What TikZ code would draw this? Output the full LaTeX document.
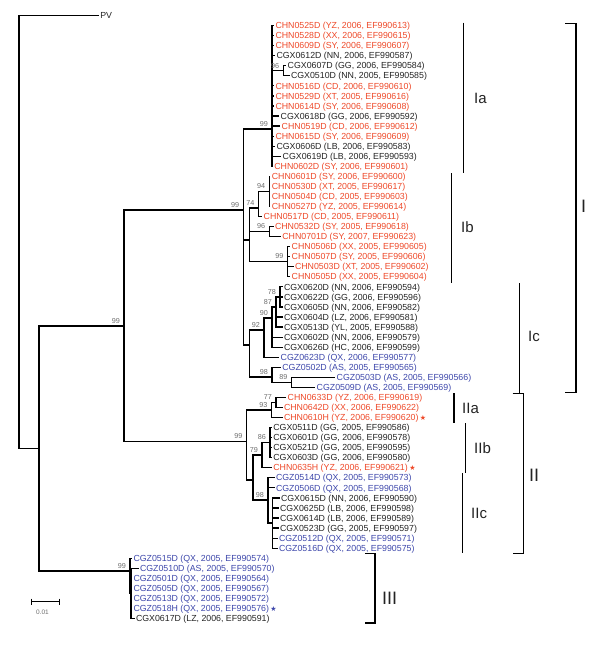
\documentclass[tikz,border=0pt]{standalone}
\usepackage{fontspec}
\setmainfont{Liberation Sans}
\newfontfamily\symf{DejaVu Sans}
\definecolor{rd}{RGB}{238,72,40}
\definecolor{bl}{RGB}{60,70,170}
\definecolor{gk}{RGB}{35,35,35}
\definecolor{bsg}{RGB}{110,110,110}
\tikzset{
  br/.style={line width=1.2pt, line cap=rect},
  leaflab/.style={anchor=west, inner xsep=1.8pt, inner ysep=0pt, font=\fontsize{8.8}{10}\selectfont, text height=6.3pt, text depth=0pt},
  bs/.style={anchor=south east, inner sep=0pt, font=\fontsize{7.2}{8}\selectfont, text=bsg},
  grpline/.style={line width=1.2pt},
  sublab/.style={anchor=west, inner sep=0pt, font=\fontsize{15}{16}\selectfont, text=gk},
  mainlab/.style={anchor=west, inner sep=0pt, font=\fontsize{18}{19}\selectfont, text=gk}
}
\newcommand\lv[5]{\node[leaflab,text=#4] (#1) at (#2,{15.5+10.05*#3}) {#5};}
\newcommand\stR{\,{\symf\fontsize{7}{7}\selectfont\textcolor{rd}{★}}}
\newcommand\stB{\,{\symf\fontsize{7}{7}\selectfont\textcolor{bl}{★}}}
\newcommand\bsl[2]{\node[bs] at ([xshift=-4pt,yshift=2.5pt]#1) {#2};}
\begin{document}
\begin{tikzpicture}[x=1pt,y=-1pt]
\useasboundingbox (0,0) rectangle (600,645);
% ---------- internal nodes ----------
\coordinate (R) at (19,232);
\coordinate (IN) at (39,448.5);
\coordinate (A) at (124,326);
\coordinate (I) at (243.3,210);
\coordinate (Ia) at (272,129);
\coordinate (n96a) at (283.3,70.8);
\coordinate (B) at (249.3,240);
\coordinate (n74) at (258.5,208);
\coordinate (n94) at (269.3,191.4);
\coordinate (n96b) at (269.3,231.6);
\coordinate (n99b) at (287.7,261.7);
\coordinate (C) at (249.3,345);
\coordinate (n92) at (264,330);
\coordinate (n90) at (272,318);
\coordinate (n87) at (276,307);
\coordinate (n78) at (280,297);
\coordinate (n98) at (272,377);
\coordinate (n89) at (291.7,382.3);
\coordinate (II) at (246.7,441.7);
\coordinate (n93) at (271.7,410);
\coordinate (n77) at (276,402.4);
\coordinate (D) at (253,480);
\coordinate (n79) at (262,455);
\coordinate (n86) at (270,442.6);
\coordinate (n98c) at (268,500);
\coordinate (nc) at (272.5,523);
\coordinate (III) at (130,571);
\coordinate (S) at (131,593);
% ---------- leaves ----------
\node[leaflab,text=gk] (PV) at (98.3,15.5) {PV};
\lv{L1}{273.5}{1}{rd}{CHN0525D (YZ, 2006, EF990613)}
\lv{L2}{273.5}{2}{rd}{CHN0528D (XX, 2006, EF990615)}
\lv{L3}{273.5}{3}{rd}{CHN0609D (SY, 2006, EF990607)}
\lv{L4}{274.5}{4}{gk}{CGX0612D (NN, 2006, EF990587)}
\lv{L5}{285.7}{5}{gk}{CGX0607D (GG, 2006, EF990584)}
\lv{L6}{289}{6}{gk}{CGX0510D (NN, 2005, EF990585)}
\lv{L7}{273.5}{7}{rd}{CHN0516D (CD, 2006, EF990610)}
\lv{L8}{273.5}{8}{rd}{CHN0529D (XT, 2005, EF990616)}
\lv{L9}{273.5}{9}{rd}{CHN0614D (SY, 2006, EF990608)}
\lv{L10}{278.7}{10}{gk}{CGX0618D (GG, 2006, EF990592)}
\lv{L11}{279.7}{11}{rd}{CHN0519D (CD, 2006, EF990612)}
\lv{L12}{273.5}{12}{rd}{CHN0615D (SY, 2006, EF990609)}
\lv{L13}{274.5}{13}{gk}{CGX0606D (LB, 2006, EF990583)}
\lv{L14}{280.7}{14}{gk}{CGX0619D (LB, 2006, EF990593)}
\lv{L15}{272.3}{15}{rd}{CHN0602D (SY, 2006, EF990601)}
\lv{L16}{269.8}{16}{rd}{CHN0601D (SY, 2006, EF990600)}
\lv{L17}{269.8}{17}{rd}{CHN0530D (XT, 2005, EF990617)}
\lv{L18}{269.8}{18}{rd}{CHN0504D (CD, 2005, EF990603)}
\lv{L19}{269.8}{19}{rd}{CHN0527D (YZ, 2005, EF990614)}
\lv{L20}{261.7}{20}{rd}{CHN0517D (CD, 2005, EF990611)}
\lv{L21}{273}{21}{rd}{CHN0532D (SY, 2005, EF990618)}
\lv{L22}{280.3}{22}{rd}{CHN0701D (SY, 2007, EF990623)}
\lv{L23}{289.7}{23}{rd}{CHN0506D (XX, 2005, EF990605)}
\lv{L24}{289.7}{24}{rd}{CHN0507D (SY, 2005, EF990606)}
\lv{L25}{293}{25}{rd}{CHN0503D (XT, 2005, EF990602)}
\lv{L26}{289.7}{26}{rd}{CHN0505D (XX, 2005, EF990604)}
\lv{L27}{282}{27}{gk}{CGX0620D (NN, 2006, EF990594)}
\lv{L28}{282}{28}{gk}{CGX0622D (GG, 2006, EF990596)}
\lv{L29}{282}{29}{gk}{CGX0605D (NN, 2006, EF990582)}
\lv{L30}{282}{30}{gk}{CGX0604D (LZ, 2006, EF990581)}
\lv{L31}{282}{31}{gk}{CGX0513D (YL, 2005, EF990588)}
\lv{L32}{282}{32}{gk}{CGX0602D (NN, 2006, EF990579)}
\lv{L33}{282}{33}{gk}{CGX0626D (HC, 2006, EF990599)}
\lv{L34}{278.7}{34}{bl}{CGZ0623D (QX, 2006, EF990577)}
\lv{L35}{280.3}{35}{bl}{CGZ0502D (AS, 2005, EF990565)}
\lv{L36}{334.7}{36}{bl}{CGZ0503D (AS, 2005, EF990566)}
\lv{L37}{314.7}{37}{bl}{CGZ0509D (AS, 2005, EF990569)}
\lv{L38}{285.7}{38}{rd}{CHN0633D (YZ, 2006, EF990619)}
\lv{L39}{282}{39}{rd}{CHN0642D (XX, 2006, EF990622)}
\lv{L40}{282}{40}{rd}{CHN0610H (YZ, 2006, EF990620)\stR}
\lv{L41}{271.3}{41}{gk}{CGX0511D (GG, 2005, EF990586)}
\lv{L42}{271.3}{42}{gk}{CGX0601D (GG, 2006, EF990578)}
\lv{L43}{271.3}{43}{gk}{CGX0521D (GG, 2005, EF990595)}
\lv{L44}{271.3}{44}{gk}{CGX0603D (GG, 2006, EF990580)}
\lv{L45}{271.3}{45}{rd}{CHN0635H (YZ, 2006, EF990621)\stR}
\lv{L46}{274}{46}{bl}{CGZ0514D (QX, 2005, EF990573)}
\lv{L47}{274}{47}{bl}{CGZ0506D (QX, 2005, EF990568)}
\lv{L48}{279}{48}{gk}{CGX0615D (NN, 2006, EF990590)}
\lv{L49}{278}{49}{gk}{CGX0625D (LB, 2006, EF990598)}
\lv{L50}{278}{50}{gk}{CGX0614D (LB, 2006, EF990589)}
\lv{L51}{278}{51}{gk}{CGX0523D (GG, 2005, EF990597)}
\lv{L52}{277}{52}{bl}{CGZ0512D (QX, 2005, EF990571)}
\lv{L53}{277}{53}{bl}{CGZ0516D (QX, 2005, EF990575)}
\lv{L54}{131.5}{54}{bl}{CGZ0515D (QX, 2005, EF990574)}
\lv{L55}{138}{55}{bl}{CGZ0510D (AS, 2005, EF990570)}
\lv{L56}{131.5}{56}{bl}{CGZ0501D (QX, 2005, EF990564)}
\lv{L57}{131.5}{57}{bl}{CGZ0505D (QX, 2005, EF990567)}
\lv{L58}{131.5}{58}{bl}{CGZ0513D (QX, 2005, EF990572)}
\lv{L59}{131.5}{59}{bl}{CGZ0518H (QX, 2005, EF990576)\stB}
\lv{L60}{134}{60}{gk}{CGX0617D (LZ, 2006, EF990591)}
% ---------- branches ----------
\draw[br] (R) |- (PV.west);
\draw[br] (R) |- (IN);
\draw[br] (IN) |- (A);
\draw[br] (IN) |- (III);
\draw[br] (A) |- (I);
\draw[br] (A) |- (II);
\draw[br] (I) |- (Ia);
\draw[br] (I) |- (B);
\draw[br] (I) |- (C);
\foreach \k in {1,2,3,4,7,8,9,10,11,12,13,14,15} {\draw[br] (Ia) |- (L\k.west);}
\draw[br] (Ia) |- (n96a);
\draw[br] (n96a) |- (L5.west);
\draw[br] (n96a) |- (L6.west);
\draw[br] (B) |- (n74);
\draw[br] (B) |- (n96b);
\draw[br] (B) |- (n99b);
\draw[br] (n74) |- (n94);
\draw[br] (n74) |- (L20.west);
\foreach \k in {16,17,18,19} {\draw[br] (n94) |- (L\k.west);}
\draw[br] (n96b) |- (L21.west);
\draw[br] (n96b) |- (L22.west);
\foreach \k in {23,24,25,26} {\draw[br] (n99b) |- (L\k.west);}
\draw[br] (C) |- (n92);
\draw[br] (C) |- (n98);
\draw[br] (n92) |- (n90);
\draw[br] (n92) |- (L34.west);
\draw[br] (n90) |- (n87);
\draw[br] (n90) |- (L32.west);
\draw[br] (n90) |- (L33.west);
\draw[br] (n87) |- (n78);
\draw[br] (n87) |- (L30.west);
\draw[br] (n87) |- (L31.west);
\foreach \k in {27,28,29} {\draw[br] (n78) |- (L\k.west);}
\draw[br] (n98) |- (L35.west);
\draw[br] (n98) |- (n89);
\draw[br] (n89) |- (L36.west);
\draw[br] (n89) |- (L37.west);
\draw[br] (II) |- (n93);
\draw[br] (II) |- (D);
\draw[br] (n93) |- (n77);
\draw[br] (n93) |- (L40.west);
\draw[br] (n77) |- (L38.west);
\draw[br] (n77) |- (L39.west);
\draw[br] (D) |- (n79);
\draw[br] (D) |- (n98c);
\draw[br] (n79) |- (n86);
\draw[br] (n79) |- (L45.west);
\foreach \k in {41,42,43,44} {\draw[br] (n86) |- (L\k.west);}
\draw[br] (n98c) |- (L46.west);
\draw[br] (n98c) |- (L47.west);
\draw[br] (n98c) |- (nc);
\foreach \k in {48,49,50,51,52,53} {\draw[br] (nc) |- (L\k.west);}
\draw[br] (III) |- (L54.west);
\draw[br] (III) |- (S);
\foreach \k in {55,56,57,58,59,60} {\draw[br] (S) |- (L\k.west);}
% ---------- bootstrap ----------
\bsl{A}{99}
\bsl{III}{99}
\bsl{I}{99}
\bsl{Ia}{99}
\bsl{n96a}{96}
\bsl{n74}{74}
\bsl{n94}{94}
\bsl{n96b}{96}
\bsl{n99b}{99}
\bsl{n78}{78}
\bsl{n87}{87}
\bsl{n90}{90}
\bsl{n92}{92}
\bsl{n98}{98}
\bsl{n89}{89}
\bsl{II}{99}
\bsl{n77}{77}
\bsl{n93}{93}
\bsl{n86}{86}
\bsl{n79}{79}
\bsl{n98c}{98}
% ---------- group bars ----------
\coordinate (ia1) at (463.3,22.7); \coordinate (ia2) at (463.3,173.3);
\draw[grpline] (ia1) -- (ia2);
\node[sublab] (tIa) at (474,98) {Ia};
\coordinate (ib1) at (451.7,173.3); \coordinate (ib2) at (451.7,282.7);
\draw[grpline] (ib1) -- (ib2);
\node[sublab] (tIb) at (461,227.3) {Ib};
\coordinate (ic1) at (519.3,283.3); \coordinate (ic2) at (519.3,393.3);
\draw[grpline] (ic1) -- (ic2);
\node[sublab] (tIc) at (528,336.7) {Ic};
\coordinate (gI1) at (565,23.3); \coordinate (gI2) at (576,23.3);
\coordinate (gI3) at (576,392.7); \coordinate (gI4) at (565,392.7);
\draw[grpline] (gI1) -- (gI2) -- (gI3) -- (gI4);
\node[mainlab] (tI) at (581,206.7) {I};
\coordinate (iia1) at (454,393.3); \coordinate (iia2) at (454,423.3);
\draw[grpline] (iia1) -- (iia2);
\node[sublab] (tIIa) at (462,408.3) {IIa};
\coordinate (iib1) at (465.7,423.3); \coordinate (iib2) at (465.7,473.3);
\draw[grpline] (iib1) -- (iib2);
\node[sublab] (tIIb) at (474,448.3) {IIb};
\coordinate (iic1) at (462.3,473.3); \coordinate (iic2) at (462.3,553.3);
\draw[grpline] (iic1) -- (iic2);
\node[sublab] (tIIc) at (471,513.3) {IIc};
\coordinate (gII1) at (512.7,393.3); \coordinate (gII2) at (523.3,393.3);
\coordinate (gII3) at (523.3,553.3); \coordinate (gII4) at (512.7,553.3);
\draw[grpline] (gII1) -- (gII2) -- (gII3) -- (gII4);
\node[mainlab] (tII) at (529,475) {II};
\coordinate (gIII1) at (365,553.3); \coordinate (gIII2) at (375,553.3);
\coordinate (gIII3) at (375,623); \coordinate (gIII4) at (365,623);
\draw[grpline] (gIII1) -- (gIII2) -- (gIII3) -- (gIII4);
\node[mainlab] (tIII) at (382,598) {III};
% ---------- scale bar ----------
\coordinate (sb1) at (31.7,601.7); \coordinate (sb2) at (59,601.7);
\draw[line width=1pt] (sb1) -- (sb2);
\draw[line width=1pt] ([yshift=3pt]sb1) -- ([yshift=-3pt]sb1);
\draw[line width=1pt] ([yshift=3pt]sb2) -- ([yshift=-3pt]sb2);
\node[inner sep=0pt, font=\fontsize{6.5}{7}\selectfont, text=bsg] (sbl) at (42.5,612) {0.01};
\end{tikzpicture}
\end{document}
